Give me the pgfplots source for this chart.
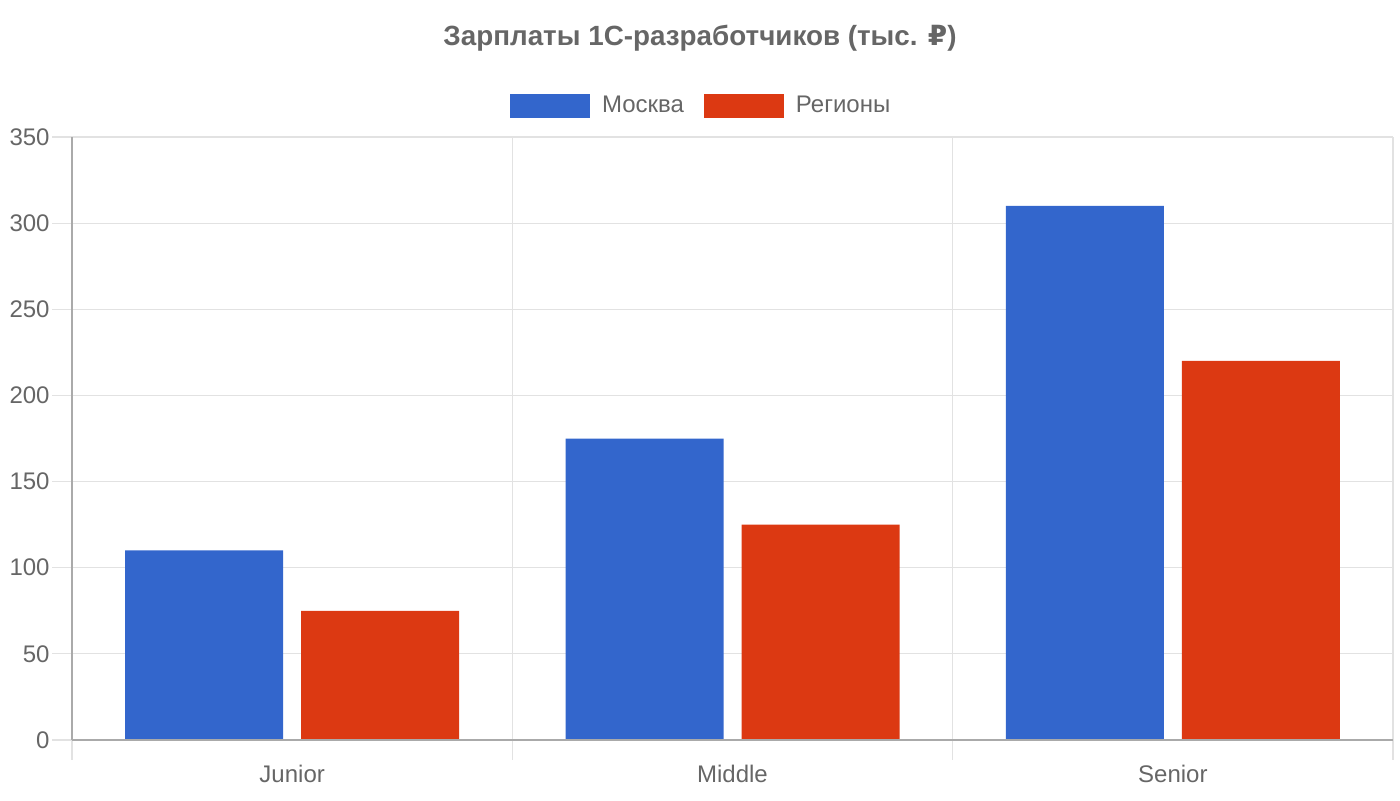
\documentclass[border=0pt]{standalone}
\usepackage{fontspec}
\setmainfont{Liberation Sans}
\newfontfamily\dejavu{DejaVu Sans}
\usepackage{pgfplots}
\pgfplotsset{compat=1.18}
\definecolor{moscow}{HTML}{3366CC}
\definecolor{regions}{HTML}{DC3912}
\definecolor{txt}{HTML}{666666}
\definecolor{gridc}{HTML}{E2E2E2}
\definecolor{axisc}{HTML}{AAAAAA}
\begin{document}
\begin{tikzpicture}
\useasboundingbox (-36pt,-30pt) rectangle (664pt,370pt);
\node[font=\fontsize{13.9}{16}\selectfont\bfseries, text=txt] at (314pt,351pt) {Зарплаты 1С-разработчиков (тыс. {\dejavu\bfseries ₽})};
\begin{axis}[
  at={(0,0)}, anchor=south west,
  scale only axis, width=660.5pt, height=301.5pt,
  xmin=-0.5, xmax=2.5, ymin=0, ymax=350,
  ybar=9pt, bar width=79pt,
  xtick={0,1,2}, xticklabels={Junior,Middle,Senior},
  minor xtick={-0.5,0.5,1.5,2.5},
  ytick={0,50,...,350},
  xmajorgrids=false, xminorgrids=true, ymajorgrids=true,
  grid style={draw=gridc, line width=0.6pt},
  minor grid style={draw=gridc, line width=0.6pt},
  axis line style={draw=none},
  tick align=outside,
  xtick pos=bottom, ytick pos=left,
  major tick length=10pt, minor tick length=10pt,
  xtick style={draw=none},
  ytick style={draw=gridc, line width=0.6pt},
  minor x tick style={draw=gridc, line width=0.6pt},
  tick label style={text=txt, font=\fontsize{12}{14}\selectfont},
  /pgf/number format/assume math mode=true,
  yticklabel style={inner xsep=1pt},
  xticklabel style={yshift=1pt},
  legend columns=2,
  legend style={at={(0.477,1.052)}, anchor=center, draw=none, fill=none,
    font=\fontsize{12}{14}\selectfont, text=txt,
    /tikz/every odd column/.append style={column sep=4pt},
    /tikz/every even column/.append style={column sep=8pt}},
  legend image code/.code={\fill[#1] (0pt,-6pt) rectangle (40pt,6pt);},
  clip=false,
]
\addplot[fill=moscow, draw=none] coordinates {(0,110) (1,175) (2,310)};
\addplot[fill=regions, draw=none] coordinates {(0,75) (1,125) (2,220)};
\legend{Москва, Регионы}
\draw[axisc, line width=0.8pt] (rel axis cs:0,0) -- (rel axis cs:1,0);
\draw[axisc, line width=0.8pt] (rel axis cs:0,0) -- (rel axis cs:0,1);
\end{axis}
\end{tikzpicture}
\end{document}
